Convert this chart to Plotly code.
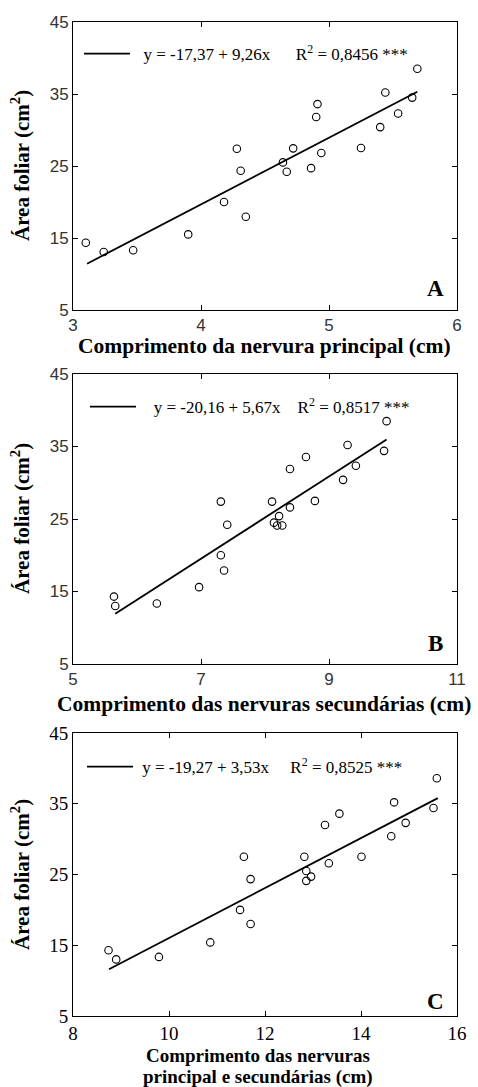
import plotly.graph_objects as go

# ---------------- data ----------------
# Panel A: main vein length (cm) vs leaf area (cm2)
a_x = [3.10, 3.24, 3.47, 3.90, 4.18, 4.28, 4.31, 4.35, 4.64, 4.67, 4.72, 4.86,
       4.90, 4.91, 4.94, 5.25, 5.40, 5.44, 5.54, 5.65, 5.69]
a_y = [14.35, 13.05, 13.3, 15.5, 20.0, 27.4, 24.35, 17.95, 25.5, 24.2, 27.45, 24.7,
       31.8, 33.6, 26.8, 27.5, 30.4, 35.2, 32.3, 34.5, 38.5]
a_b0, a_b1, a_r2 = -17.37, 9.26, 0.8456
a_fit_x = [3.11, 5.69]

# Panel B: secondary veins length (cm) vs leaf area
b_x = [5.64, 5.66, 6.31, 6.97, 7.31, 7.36, 7.31, 7.41, 8.11, 8.14, 8.19, 8.22,
       8.27, 8.39, 8.39, 8.64, 8.78, 9.22, 9.29, 9.42, 9.86, 9.90]
b_y = [14.3, 13.0, 13.35, 15.6, 20.0, 17.9, 27.4, 24.2, 27.4, 24.5, 24.1, 25.4,
       24.1, 26.6, 31.9, 33.55, 27.5, 30.4, 35.2, 32.35, 34.4, 38.5]
b_b0, b_b1, b_r2 = -20.16, 5.67, 0.8517
b_fit_x = [5.66, 9.90]

# Panel C: main + secondary veins length (cm) vs leaf area
c_x = [8.74, 8.90, 9.79, 10.86, 11.48, 11.56, 11.70, 11.70, 12.82, 12.86, 12.86,
       12.96, 13.25, 13.33, 13.55, 14.01, 14.63, 14.69, 14.93, 15.51, 15.58]
c_y = [14.3, 13.0, 13.35, 15.4, 20.0, 27.5, 24.35, 18.0, 27.5, 25.5, 24.1,
       24.7, 32.0, 26.6, 33.6, 27.5, 30.4, 35.2, 32.3, 34.4, 38.6]
c_b0, c_b1, c_r2 = -19.27, 3.53, 0.8525
c_fit_x = [8.75, 15.60]

y_ticks = [5, 15, 25, 35, 45]
a_xticks = [3, 4, 5, 6]
b_xticks = [5, 7, 9, 11]
c_xticks = [8, 10, 12, 14, 16]

x_titles = [["Comprimento da nervura principal (cm)"],
            ["Comprimento das nervuras secundárias (cm)"],
            ["Comprimento das nervuras", "principal e secundárias (cm)"]]
y_title = "Área foliar (cm<sup>2</sup>)"
letters = ["A", "B", "C"]

# ---------------- layout helpers ----------------
W, H = 478, 1087
def px(x):
    return x / W
def py(y):
    return 1 - y / H

SERIF = "Liberation Serif, Times New Roman, serif"
SANS = "Liberation Sans, Arial, sans-serif"

panels = [
    dict(x=a_x, y=a_y, b0=a_b0, b1=a_b1, r2=a_r2, fx=a_fit_x, xr=[3, 6], xt=a_xticks,
         top=22, bot=310, lead=2, gap=6, lx=79, ly=54, xtitle_y=[346], xtitle_size=21.5,
         xtitle_x=264, ytitle_y=166, letter_y=289,
         tickfont=dict(family=SANS, size=17, color="#333")),
    dict(x=b_x, y=b_y, b0=b_b0, b1=b_b1, r2=b_r2, fx=b_fit_x, xr=[5, 11], xt=b_xticks,
         top=374, bot=664, lead=3, gap=4, lx=85, ly=407, xtitle_y=[704], xtitle_size=21.5,
         xtitle_x=264, ytitle_y=519, letter_y=643,
         tickfont=dict(family=SANS, size=17, color="#333")),
    dict(x=c_x, y=c_y, b0=c_b0, b1=c_b1, r2=c_r2, fx=c_fit_x, xr=[8, 16], xt=c_xticks,
         top=733, bot=1016, lead=1, gap=5, lx=82, ly=767, xtitle_y=[1055, 1077],
         xtitle_size=19, xtitle_x=258, ytitle_y=875, letter_y=1001,
         tickfont=dict(family=SERIF, size=19, color="black")),
]

fig = go.Figure()
layout = dict(width=W, height=H,
              margin=dict(l=0, r=0, t=0, b=0, autoexpand=False),
              paper_bgcolor="white", plot_bgcolor="white",
              font=dict(family=SERIF, color="black", size=16),
              annotations=[])

def fmt(v, d):
    return f"{v:.{d}f}".replace(".", ",")

for i, p in enumerate(panels):
    n = "" if i == 0 else str(i + 1)
    xa, ya = "x" + n, "y" + n
    leg = "legend" + n
    fig.add_trace(go.Scatter(x=p["x"], y=p["y"], mode="markers", xaxis=xa, yaxis=ya,
                             marker=dict(symbol="circle-open", size=7.5, color="black",
                                         line=dict(width=1.1, color="black")),
                             showlegend=False, hoverinfo="x+y"))
    fit_y = [p["b0"] + p["b1"] * v for v in p["fx"]]
    lead = "\u00a0" * p["lead"]
    sp = "\u00a0" * p["gap"]
    name = (f"{lead}y = {fmt(p['b0'], 2)} + {fmt(p['b1'], 2)}x{sp}"
            f"R<sup>2</sup> = {fmt(p['r2'], 4)} ***")
    fig.add_trace(go.Scatter(x=p["fx"], y=fit_y, mode="lines", xaxis=xa, yaxis=ya,
                             line=dict(color="black", width=1.8), name=name,
                             legend=leg, showlegend=True))
    axcommon = dict(showline=True, linecolor="black", linewidth=1, mirror="ticks",
                    ticks="inside", ticklen=5, tickcolor="black", showgrid=False,
                    zeroline=False, tickfont=p["tickfont"])
    layout["xaxis" + n] = dict(domain=[px(73), px(457)], anchor=ya, range=p["xr"],
                               tickvals=p["xt"], **axcommon)
    layout["yaxis" + n] = dict(domain=[py(p["bot"]), py(p["top"])], anchor=xa,
                               range=[5, 45], tickvals=y_ticks, **axcommon)
    layout[leg] = dict(x=px(p["lx"]), y=py(p["ly"]), xanchor="left", yanchor="middle",
                       bgcolor="rgba(0,0,0,0)", borderwidth=0, itemwidth=46,
                       font=dict(family=SERIF, size=17, color="black"))
    for line_text, ty in zip(x_titles[i], p["xtitle_y"]):
        layout["annotations"].append(
            dict(text=f"<b>{line_text}</b>", x=px(p["xtitle_x"]), y=py(ty),
                 xref="paper", yref="paper", showarrow=False, xanchor="center",
                 yanchor="middle",
                 font=dict(family=SERIF, size=p["xtitle_size"], color="black")))
    layout["annotations"] += [
        dict(text=f"<b>{y_title}</b>", x=px(20), y=py(p["ytitle_y"]), textangle=-90,
             xref="paper", yref="paper", showarrow=False, xanchor="center", yanchor="middle",
             font=dict(family=SERIF, size=21, color="black")),
        dict(text=f"<b>{letters[i]}</b>", x=px(435), y=py(p["letter_y"]),
             xref="paper", yref="paper", showarrow=False, xanchor="center", yanchor="middle",
             font=dict(family=SERIF, size=23, color="black")),
    ]

fig.update_layout(**layout)
fig.write_html("out.html")
